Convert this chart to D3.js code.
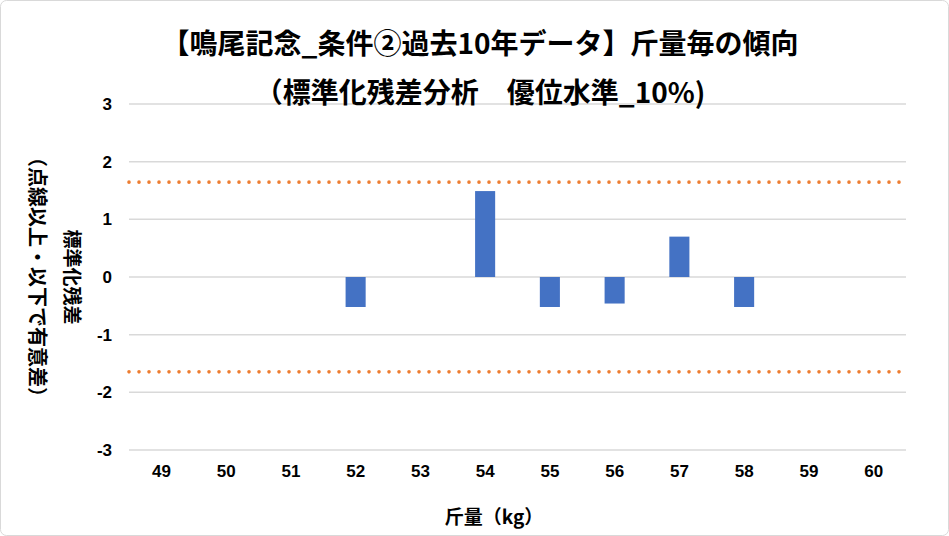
<!DOCTYPE html>
<html><head><meta charset="utf-8">
<script src="https://cdn.jsdelivr.net/npm/d3@7"></script>
<style>body{margin:0;background:#fff}svg{display:block}</style>
</head><body>
<svg id="c" width="949" height="536"></svg>
<script>
const categories = ["49","50","51","52","53","54","55","56","57","58","59","60"];
const residuals  = [null,null,null,-0.52,null,1.49,-0.52,-0.46,0.70,-0.52,null,null];
const thresholds = [1.645,-1.645];
const yTicks = [3,2,1,0,-1,-2,-3];
const titleLines = ["【鳴尾記念_条件②過去10年データ】斤量毎の傾向","（標準化残差分析　優位水準_10%)"];
const yTitle1 = "標準化残差";
const yTitle2 = "（点線以上・以下で有意差）";
const xTitle = "斤量（kg）";

const svg = d3.select("#c");
const W = 949, H = 536;
const FONT = "'Liberation Sans','Noto Sans CJK JP',sans-serif";
const CJK = "'Noto Sans CJK JP',sans-serif";

svg.append("rect").attr("x",0.5).attr("y",0.5).attr("width",W-1).attr("height",H-1)
  .attr("rx",6).attr("fill","#fff").attr("stroke","#d9d9d9").attr("stroke-width",1);

const x = d3.scaleBand().domain(categories).range([129,906]);
const y = d3.scaleLinear().domain([-3,3]).range([450,104]);

// gridlines
svg.append("g").selectAll("line").data(yTicks).join("line")
  .attr("x1",x.range()[0]).attr("x2",x.range()[1])
  .attr("y1",d=>y(d)).attr("y2",d=>y(d))
  .attr("stroke","#d9d9d9").attr("stroke-width",1.5);

// y axis labels
const yAxis = d3.axisLeft(y).tickValues(yTicks).tickSize(0).tickPadding(0).tickFormat(d=>String(d));
const gy = svg.append("g").attr("transform","translate(112,0)").call(yAxis);
gy.select(".domain").remove();
gy.selectAll("text").attr("font-family",FONT).attr("font-size",17).attr("font-weight","bold").attr("fill","#000");

// x axis labels
const xAxis = d3.axisBottom(x).tickSize(0).tickPadding(0);
const gx = svg.append("g").attr("transform","translate(0,465)").call(xAxis);
gx.select(".domain").remove();
gx.selectAll("text").attr("font-family",FONT).attr("font-size",17).attr("font-weight","bold").attr("fill","#000");

// bars
const bw = x.bandwidth()*0.31;
svg.append("g").selectAll("rect").data(categories.map((c,i)=>({c,v:residuals[i]})).filter(d=>d.v!==null))
  .join("rect")
  .attr("x",d=>x(d.c)+x.bandwidth()/2-bw/2).attr("width",bw)
  .attr("y",d=>Math.min(y(d.v),y(0))).attr("height",d=>Math.abs(y(d.v)-y(0)))
  .attr("fill","#4472C4");

// thresholds
svg.append("g").selectAll("line").data(thresholds).join("line")
  .attr("x1",x.range()[0]).attr("x2",x.range()[1])
  .attr("y1",d=>y(d)).attr("y2",d=>y(d))
  .attr("stroke","#ED7D31").attr("stroke-width",3.6)
  .attr("stroke-linecap","round").attr("stroke-dasharray","0 10");

// titles
svg.append("g").selectAll("text").data(titleLines).join("text")
  .attr("x",480).attr("y",(d,i)=>i===0?54:103)
  .attr("text-anchor","middle").attr("font-family",CJK).attr("font-weight","bold")
  .attr("font-size",28).attr("fill","#000").text(d=>d);

// y titles
svg.append("text").attr("transform","translate(65,277) rotate(90)")
  .attr("text-anchor","middle").attr("font-family",CJK).attr("font-weight","bold")
  .attr("font-size",19).attr("fill","#000").text(yTitle1);
svg.append("text").attr("transform","translate(30,277) rotate(90)")
  .attr("text-anchor","middle").attr("font-family",CJK).attr("font-weight","bold")
  .attr("font-size",20).attr("fill","#000").text(yTitle2);

// x title
svg.append("text").attr("x",494).attr("y",524)
  .attr("text-anchor","middle").attr("font-family",CJK).attr("font-weight","bold")
  .attr("font-size",19).attr("fill","#000").text(xTitle);
</script>
</body></html>
